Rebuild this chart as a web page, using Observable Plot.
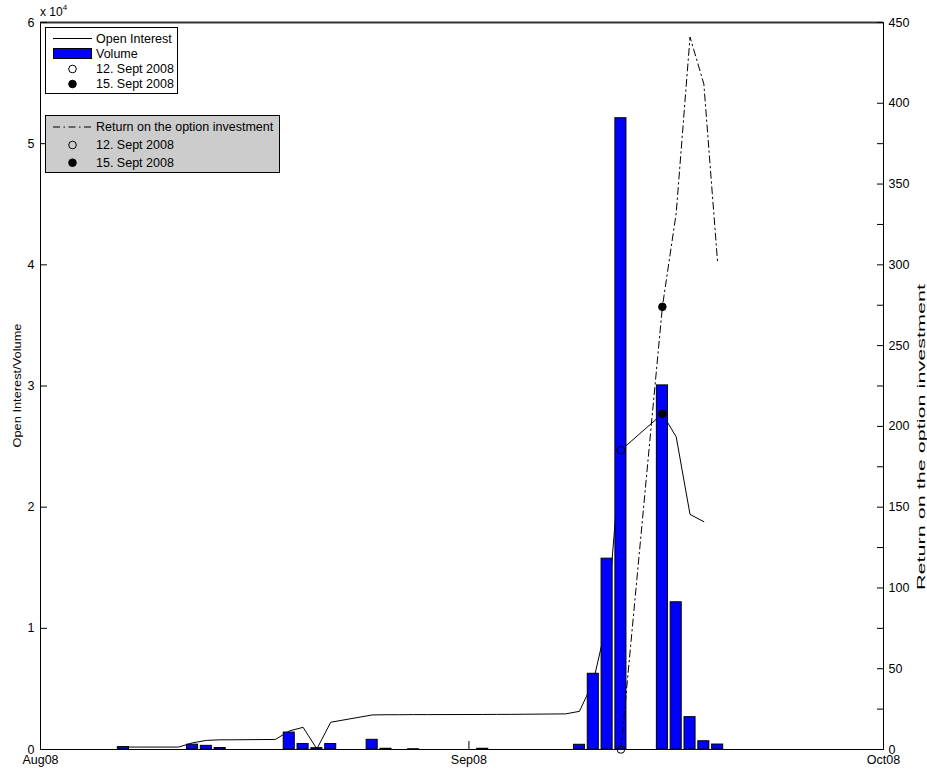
<!DOCTYPE html>
<html><head><meta charset="utf-8">
<script src="https://cdn.jsdelivr.net/npm/d3@7"></script>
<script src="https://cdn.jsdelivr.net/npm/@observablehq/plot@0.6"></script>
<style>
html,body{margin:0;padding:0;background:#fff;}
#wrap{position:relative;width:927px;height:772px;font-family:"Liberation Sans",Arial,Helvetica,sans-serif;}
#wrap svg{position:absolute;left:0;top:0;}
#exp{position:absolute;left:40px;top:3px;font-size:12px;color:#000;font-family:"Liberation Sans",Arial,sans-serif;}
#exp sup{font-size:8px;vertical-align:6px;}
</style></head>
<body><div id="wrap"><div id="exp">x 10<sup>4</sup></div></div>
<script>
// ---- data ----
const volDates = ["2008-08-07","2008-08-12","2008-08-13","2008-08-14","2008-08-19","2008-08-20","2008-08-21","2008-08-22","2008-08-25","2008-08-26","2008-08-28","2008-09-02","2008-09-09","2008-09-10","2008-09-11","2008-09-12","2008-09-15","2008-09-16","2008-09-17","2008-09-18","2008-09-19"];
const volValues = [200,400,300,120,1400,450,110,450,800,60,20,60,390,6250,15750,52100,30050,12150,2670,680,410];

const oiDates = ["2008-08-07","2008-08-08","2008-08-11","2008-08-12","2008-08-13","2008-08-14","2008-08-15","2008-08-18","2008-08-19","2008-08-20","2008-08-21","2008-08-22","2008-08-25","2008-08-26","2008-08-27","2008-08-28","2008-08-29","2008-09-02","2008-09-03","2008-09-04","2008-09-05","2008-09-08","2008-09-09","2008-09-10","2008-09-11","2008-09-12","2008-09-15","2008-09-16","2008-09-17","2008-09-18"];
const oiValues = [200,200,200,550,750,800,800,830,1530,1830,50,2250,2850,2870,2870,2880,2880,2890,2900,2900,2910,2940,3150,5600,10600,24700,27700,25800,19400,18800];

const retDates = ["2008-09-12","2008-09-15","2008-09-16","2008-09-17","2008-09-18","2008-09-19"];
const retValues = [0,274,332,441,412,301];

const markDates = ["2008-09-12","2008-09-15"];
const markLabels = ["12. Sept 2008","15. Sept 2008"];
const markFilled = [false,true];

const xTickDates = ["2008-08-01","2008-09-01","2008-10-01"];
const xTickLabels = ["Aug08","Sep08","Oct08"];
const yLeftTicks = [0,1,2,3,4,5,6];        // in units of 10^4
const yLeftScale = 1e4;
const yRightTicks = [0,50,100,150,200,250,300,350,400,450];
const yRightMinor = [25,75,125,175,225,275,325,375];
const yLeftMax = 6e4, yRightMax = 450;

// ---- build tables ----
const parse = d3.utcParse("%Y-%m-%d");
const k = yLeftMax / yRightMax;
const halfBar = 0.4 * 864e5;
const vol = volDates.map((d,i)=>({date:parse(d), v:volValues[i]}));
const oi = oiDates.map((d,i)=>({date:parse(d), v:oiValues[i]}));
const ret = retDates.map((d,i)=>({date:parse(d), v:retValues[i]}));
const oiMarks = markDates.map((d,i)=>({date:parse(d), v:oiValues[oiDates.indexOf(d)], filled:markFilled[i]}));
const retMarks = markDates.map((d,i)=>({date:parse(d), v:retValues[retDates.indexOf(d)], filled:markFilled[i]}));
const xTicks = xTickDates.map(parse);
const xLabel = d => xTickLabels[xTicks.findIndex(t => +t === +d)];

const plot = Plot.plot({
  width: 927, height: 772,
  marginLeft: 40, marginRight: 44, marginTop: 22, marginBottom: 23,
  style: {fontFamily: "Liberation Sans, Arial, Helvetica, sans-serif", fontSize: "12.5px", background: "transparent", overflow: "visible"},
  x: {type: "utc", domain: [xTicks[0], xTicks[xTicks.length-1]]},
  y: {domain: [0, yLeftMax]},
  marks: [
    Plot.line(oi, {x: "date", y: "v", stroke: "#000", strokeWidth: 1}),
    Plot.rect(vol, {x1: d => new Date(+d.date - halfBar), x2: d => new Date(+d.date + halfBar), y1: () => 0, y2: "v", fill: "#0000ff", stroke: "#000", strokeWidth: 1}),
    Plot.line(ret, {x: "date", y: d => d.v * k, stroke: "#000", strokeWidth: 1, strokeDasharray: "7,3.5,1.5,3.5"}),
    Plot.dot(oiMarks, {x: "date", y: "v", r: 3.8, stroke: "#000", strokeWidth: 1, fill: d => d.filled ? "#000" : "none"}),
    Plot.dot(retMarks, {x: "date", y: d => d.v * k, r: 3.8, stroke: "#000", strokeWidth: 1, fill: d => d.filled ? "#000" : "none"}),
    Plot.frame({stroke: "#000", strokeWidth: 1}),
    Plot.ruleY([yLeftMax], {stroke: "#333", strokeWidth: 2}),
    // left axis
    Plot.axisY({anchor: "left", ticks: yLeftTicks.map(t => t * yLeftScale), tickFormat: d => String(d / yLeftScale), tickSize: 0, tickPadding: 6, label: null}),
    Plot.axisY({anchor: "left", ticks: yLeftTicks.map(t => t * yLeftScale), tickSize: 7, dx: 7, tickFormat: () => "", label: null}),
    // right axis
    Plot.axisY({anchor: "right", ticks: yRightTicks.map(r => r * k), tickFormat: d => String(Math.round(d / k)), tickSize: 0, tickPadding: 5, label: null}),
    Plot.axisY({anchor: "right", ticks: yRightTicks.concat(yRightMinor).map(r => r * k), tickSize: 7, dx: -7, tickFormat: () => "", label: null}),
    // x axis
    Plot.axisX({ticks: xTicks, tickFormat: xLabel, tickSize: 0, tickPadding: 6, label: null}),
    Plot.axisX({ticks: xTicks, tickSize: 8, dy: -8, tickFormat: () => "", label: null}),
    // axis titles
    Plot.text(["Open Interest/Volume"], {frameAnchor: "left", rotate: -90, textAnchor: "start", dx: -23, dy: 61.5, fontSize: 11}),
    Plot.text(["Return on the option investment"], {frameAnchor: "right", rotate: -90, textAnchor: "start", dx: 38, dy: 204, fontSize: 11})
  ]
});
document.getElementById("wrap").appendChild(plot);

// stretch the axis titles the way the original export did
d3.select(plot).selectAll("text").each(function(){
  const t = this.textContent;
  if (t === "Return on the option investment") { this.setAttribute("textLength", 306); this.setAttribute("lengthAdjust", "spacingAndGlyphs"); }
  if (t === "Open Interest/Volume") { this.setAttribute("textLength", 124); this.setAttribute("lengthAdjust", "spacingAndGlyphs"); }
});

// ---- legends ----
const leg = d3.select("#wrap").append("svg").attr("width", 927).attr("height", 772)
  .style("font-family", "Liberation Sans, Arial, Helvetica, sans-serif").style("font-size", "12.5px");
function legendBox(x, y, w, h, fill) {
  leg.append("rect").attr("x", x + 0.5).attr("y", y + 0.5).attr("width", w).attr("height", h).attr("fill", fill).attr("stroke", "#000");
}
function legendText(x, y, s) {
  leg.append("text").attr("x", x).attr("y", y).attr("dy", "0.35em").text(s);
}
function legendDot(x, y, filled) {
  leg.append("circle").attr("cx", x).attr("cy", y).attr("r", 3.8).attr("stroke", "#000").attr("fill", filled ? "#000" : "none");
}
// legend 1
legendBox(45, 27, 132, 66, "#fff");
leg.append("line").attr("x1", 53).attr("x2", 92).attr("y1", 38.5).attr("y2", 38.5).attr("stroke", "#000");
legendText(96, 38.5, "Open Interest");
leg.append("rect").attr("x", 53.5).attr("y", 48.5).attr("width", 38).attr("height", 10).attr("fill", "#0000ff").attr("stroke", "#000");
legendText(96, 53.5, "Volume");
markLabels.forEach((s, i) => { legendDot(72.5, 69 + i * 15, markFilled[i]); legendText(96, 69 + i * 15, s); });
// legend 2
legendBox(45, 115, 234, 57, "#cccccc");
leg.append("line").attr("x1", 53).attr("x2", 92).attr("y1", 127).attr("y2", 127).attr("stroke", "#000").attr("stroke-dasharray", "7,3.5,1.5,3.5");
legendText(96, 127, "Return on the option investment");
markLabels.forEach((s, i) => { legendDot(72.5, 145 + i * 17.7, markFilled[i]); legendText(96, 145 + i * 17.7, s); });
</script>
</body></html>
